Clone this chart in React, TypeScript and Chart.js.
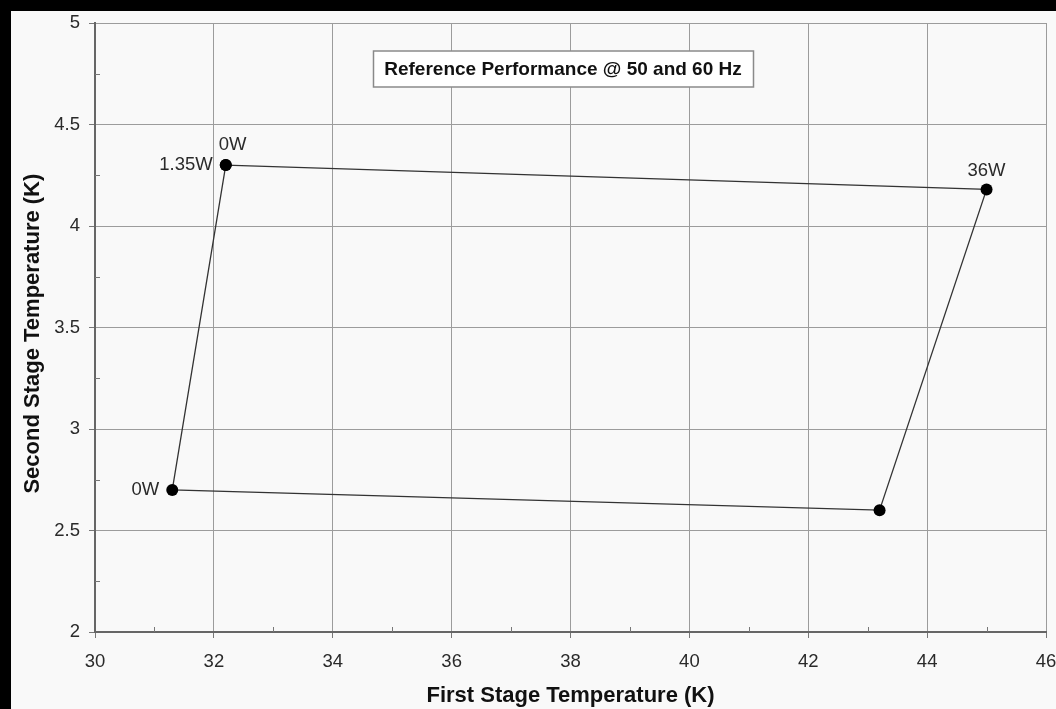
import React, { useEffect, useRef } from "react";
import { Chart, registerables } from "chart.js";

Chart.register(...registerables);

// ---- data ----
const firstStageK = [32.2, 45.0, 43.2, 31.3];
const secondStageK = [4.3, 4.18, 2.6, 2.7];
const noteTexts = ["0W", "1.35W", "36W", "0W"];
const notePointIndex = [0, 0, 1, 3];
const noteSides = ["aboveRight", "left", "above", "left"];
const chartTitle = "Reference Performance @ 50 and 60 Hz";
const xTitle = "First Stage Temperature (K)";
const yTitle = "Second Stage Temperature (K)";
const xMin = 30;
const xMax = 46;
const xStep = 2;
const yMin = 2;
const yMax = 5;
const yStep = 0.5;

const FONT = "'Liberation Sans', Arial, sans-serif";

const decorPlugin = {
  id: "decor",
  afterDraw(chart: any) {
    const ctx = chart.ctx as CanvasRenderingContext2D;
    const xs = chart.scales.x;
    const ys = chart.scales.y;
    const { left, right, top, bottom } = chart.chartArea;
    ctx.save();
    // minor ticks (inside)
    ctx.strokeStyle = "#777";
    ctx.lineWidth = 1;
    for (let v = xMin + xStep / 2; v < xMax; v += xStep) {
      const px = Math.round(xs.getPixelForValue(v)) + 0.5;
      ctx.beginPath();
      ctx.moveTo(px, bottom);
      ctx.lineTo(px, bottom - 5);
      ctx.stroke();
    }
    for (let v = yMin + yStep / 2; v < yMax; v += yStep) {
      const py = Math.round(ys.getPixelForValue(v)) + 0.5;
      ctx.beginPath();
      ctx.moveTo(left, py);
      ctx.lineTo(left + 5, py);
      ctx.stroke();
    }

    // title box
    ctx.font = `bold 19px ${FONT}`;
    const tw = ctx.measureText(chartTitle).width;
    const bw = tw + 22;
    const bh = 36;
    const cx = (left + right) / 2 - 7.5;
    const by = top + 28;
    ctx.fillStyle = "#ffffff";
    ctx.fillRect(cx - bw / 2, by, bw, bh);
    ctx.strokeStyle = "#8a8a8a";
    ctx.lineWidth = 1.5;
    ctx.strokeRect(Math.round(cx - bw / 2) + 0.5, by, Math.round(bw), bh);
    ctx.fillStyle = "#111";
    ctx.textAlign = "center";
    ctx.textBaseline = "middle";
    ctx.fillText(chartTitle, cx, by + bh / 2 + 1);

    // point notes
    const meta = chart.getDatasetMeta(0);
    ctx.font = `18.5px ${FONT}`;
    ctx.fillStyle = "#2a2a2a";
    ctx.textBaseline = "middle";
    noteTexts.forEach((t, i) => {
      const el = meta.data[notePointIndex[i]];
      if (!el) return;
      const side = noteSides[i];
      if (side === "aboveRight") {
        ctx.textAlign = "left";
        ctx.fillText(t, el.x - 7, el.y - 20);
      } else if (side === "above") {
        ctx.textAlign = "center";
        ctx.fillText(t, el.x, el.y - 19);
      } else {
        ctx.textAlign = "right";
        ctx.fillText(t, el.x - 13, el.y);
      }
    });
    ctx.restore();
  },
};

export default function App() {
  const ref = useRef<HTMLCanvasElement | null>(null);

  useEffect(() => {
    if (!ref.current) return;
    const pts = firstStageK.map((x, i) => ({ x, y: secondStageK[i] }));
    const loop = [...pts, pts[0]];
    const chart = new Chart(ref.current, {
      type: "scatter",
      data: {
        datasets: [
          {
            data: loop,
            showLine: true,
            borderColor: "#333",
            borderWidth: 1.3,
            pointRadius: 6,
            pointBackgroundColor: "#000",
            pointBorderColor: "#000",
            pointBorderWidth: 0,
            fill: false,
          },
        ],
      },
      options: {
        animation: false,
        responsive: false,
        devicePixelRatio: 1,
        layout: { padding: { top: 12, right: 10, left: 0, bottom: 0 } },
        plugins: {
          legend: { display: false },
          tooltip: { enabled: false },
        },
        scales: {
          x: {
            type: "linear",
            min: xMin,
            max: xMax,
            ticks: {
              stepSize: xStep,
              color: "#2a2a2a",
              font: { family: FONT, size: 18.5 },
              padding: 13,
              callback: (v: any) => String(v),
            },
            grid: { color: "#9c9c9c", lineWidth: 1, tickLength: 6, tickColor: "#777" },
            border: { color: "#666", width: 2 },
            title: {
              display: true,
              text: xTitle,
              color: "#111",
              font: { family: FONT, size: 22, weight: "bold" },
              padding: { top: 0, bottom: 0 },
            },
            afterFit: (s: any) => {
              s.height = 77;
              s.paddingLeft = 0;
              s.paddingRight = 0;
            },
          },
          y: {
            type: "linear",
            min: yMin,
            max: yMax,
            ticks: {
              stepSize: yStep,
              color: "#2a2a2a",
              font: { family: FONT, size: 18.5 },
              padding: 9,
              callback: (v: any) => String(v),
            },
            grid: { color: "#9c9c9c", lineWidth: 1, tickLength: 6, tickColor: "#777" },
            border: { color: "#666", width: 2 },
            title: {
              display: true,
              text: yTitle + "  ",
              color: "#111",
              font: { family: FONT, size: 22, weight: "bold" },
              padding: { top: 9, bottom: 0 },
            },
            afterFit: (s: any) => {
              s.width = 84;
              s.paddingTop = 0;
              s.paddingBottom = 0;
            },
          },
        },
      } as any,
      plugins: [decorPlugin],
    });
    return () => chart.destroy();
  }, []);

  return (
    <div style={{ position: "absolute", left: 0, top: 0, width: 1056, height: 709, background: "#000" }}>
      <div style={{ position: "absolute", left: 11, top: 11, width: 1045, height: 698, background: "#f9f9f9" }}>
        <canvas ref={ref} width={1045} height={698} style={{ display: "block" }} />
      </div>
    </div>
  );
}
